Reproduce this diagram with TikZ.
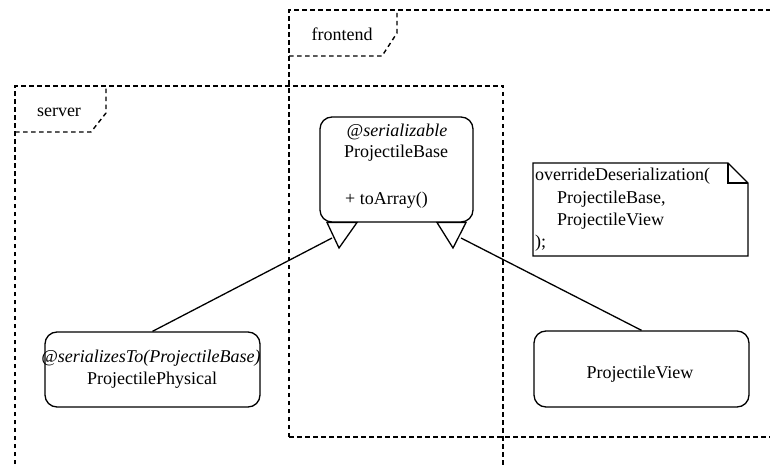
\documentclass[tikz,border=0pt]{standalone}
\usepackage{fontspec}
\setmainfont{Liberation Serif}
\begin{document}
\begin{tikzpicture}[x=1pt,y=-1pt,
  pkg/.style={line width=1.4pt, dash pattern=on 4.5pt off 3.5pt},
  cls/.style={draw, line width=1.3pt, rounded corners=12pt, fill=white, inner sep=0pt},
  txt/.style={font=\fontsize{18}{21}\selectfont, inner sep=0pt, anchor=base},
  ltxt/.style={txt, anchor=base west},
  conn/.style={line width=1.3pt},
  tri/.style={line width=1.3pt, fill=white, line join=miter}]
\useasboundingbox (0,0) rectangle (770,465);
\clip (0,0) rectangle (770,465);
% frontend package
\draw[pkg] (289,437) -- (289,10) -- (800,10);
\draw[pkg] (289,437) -- (800,437);
\draw[pkg] (289,56) -- (382,56) -- (397,33) -- (397,10);
\node[txt] (lfront) at (342,41) {frontend};
% server package
\draw[pkg] (15,480) -- (15,86) -- (503,86) -- (503,480);
\draw[pkg] (15,132) -- (91,132) -- (106,113) -- (106,86);
\node[txt] (lserver) at (59,117) {server};
% classes
\node[cls, minimum width=153pt, minimum height=105pt] (base) at (396.5,169.5) {};
\node[txt] (bster) at (397,137) {\itshape @serializable};
\node[txt] (bname) at (396,158) {ProjectileBase};
\node[ltxt] (bmeth) at (345,204) {+ toArray()};
\node[cls, minimum width=215pt, minimum height=75pt] (phys) at (152.5,369.5) {};
\node[txt] (pster) at (151,362) {\itshape @serializesTo(ProjectileBase)};
\node[txt] (pname) at (152,384) {ProjectilePhysical};
\node[cls, minimum width=215pt, minimum height=76pt] (view) at (641.5,369) {};
\node[txt] (vname) at (640,378) {ProjectileView};
% note
\draw[line width=1.3pt, fill=white] (533,163) -- (728,163) -- (748,183) -- (748,256) -- (533,256) -- cycle;
\draw[line width=1.1pt] (728,163) -- (728,183) -- (748,183);
\node[ltxt] (n1) at (535,181) {overrideDeserialization(};
\node[ltxt] (n2) at (557,203) {ProjectileBase,};
\node[ltxt] (n3) at (557,225) {ProjectileView};
\node[ltxt] (n4) at (535,247) {);};
% generalization arrows
\coordinate (la) at (327,222.5);
\coordinate (lb) at (357,222.5);
\coordinate (lc) at (339,248);
\coordinate (le) at (332,238);
\coordinate (ra) at (437,222.5);
\coordinate (rb) at (466,222.5);
\coordinate (rc) at (453,248);
\coordinate (re) at (461,238);
\draw[conn] (phys.north) -- (le);
\draw[conn] (view.north) -- (re);
\draw[tri] (la) -- (lb) -- (lc) -- cycle;
\draw[tri] (ra) -- (rb) -- (rc) -- cycle;
\end{tikzpicture}
\end{document}
